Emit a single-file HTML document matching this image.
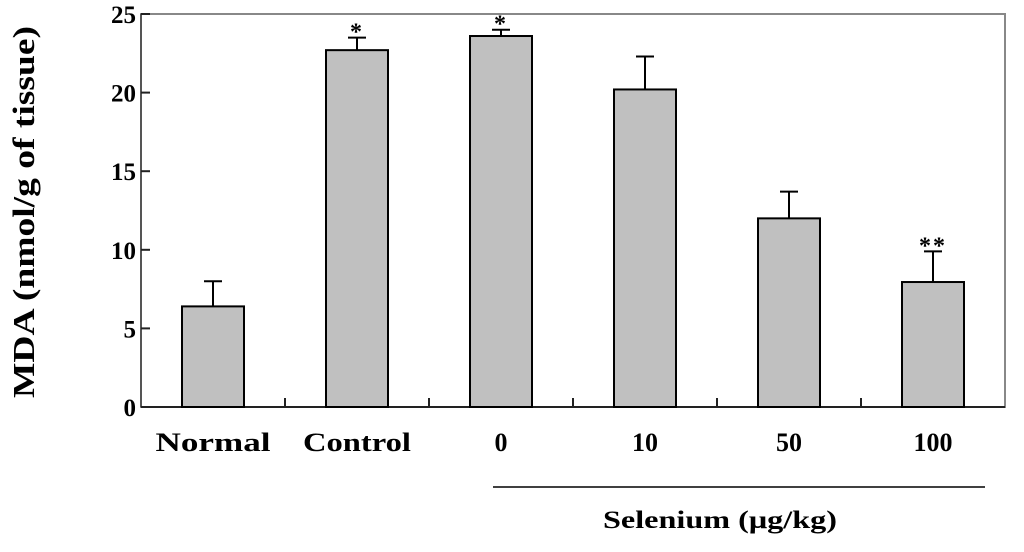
<!DOCTYPE html>
<html><head><meta charset="utf-8"><style>
body{margin:0;background:#fff;}
svg text{font-family:"Liberation Serif",serif;font-weight:bold;}
</style></head><body>
<svg id="chart" width="1024" height="547" viewBox="0 0 1024 547">
<g id="plot"></g>
</svg>
<script>
const categories=["Normal","Control","0","10","50","100"];
const means=[6.4,22.7,23.6,20.2,12.0,7.95];
const errors=[1.6,0.8,0.4,2.1,1.7,1.95];
const marks=["","*","*","","","**"];
const yTicks=[0,5,10,15,20,25];
const labelWidths=[115,108,0,0,0,0];
const NS="http://www.w3.org/2000/svg";
const L=141,R=1005,T=14,B=407,yMax=25;
const y=v=>B-(v/yMax)*(B-T);
const band=(R-L)/categories.length;
const x=i=>L+band*(i+0.5);
const g=document.getElementById('plot');
function mk(tag,attrs,parent){const e=document.createElementNS(NS,tag);for(const k in attrs)e.setAttribute(k,attrs[k]);(parent||g).appendChild(e);return e;}
let e=mk('rect',{x:L,y:T,width:R-L,height:B-T,fill:'none',stroke:'#888','stroke-width':2});


e=mk('line',{x1:L,y1:B,x2:R,y2:B,stroke:'#222','stroke-width':2});


e=mk('line',{x1:L,y1:T,x2:L,y2:B,stroke:'#555','stroke-width':2});


yTicks.forEach(t=>{
  e=mk('line',{x1:L,y1:y(t),x2:L+9,y2:y(t),stroke:'#222','stroke-width':2});
  
  
  e=mk('text',{x:L-5,y:y(t)+9,'font-size':25,'text-anchor':'end'});
  e.textContent=t;
  
  
});
for(let i=1;i<categories.length;i++){
  e=mk('line',{x1:L+band*i,y1:B,x2:L+band*i,y2:B-9,stroke:'#222','stroke-width':2});
  
  
}
const bw=62;
categories.forEach((c,i)=>{
  const cx=x(i);
  const top=y(means[i]+errors[i]);
  e=mk('line',{x1:cx,y1:y(means[i]),x2:cx,y2:top,stroke:'#000','stroke-width':2});
  
  
  e=mk('line',{x1:cx-9,y1:top,x2:cx+9,y2:top,stroke:'#000','stroke-width':2});
  
  
  e=mk('rect',{x:cx-bw/2,y:y(means[i]),width:bw,height:B-y(means[i]),fill:'#c0c0c0',stroke:'#000','stroke-width':2});
  
  
  if(marks[i]){
    e=mk('text',{x:cx,y:top+2,'font-size':24,'text-anchor':'middle','font-weight':'normal','letter-spacing':2});
    e.textContent=marks[i];
    
    
  }
  const a={x:cx,y:451,'font-size':26,'text-anchor':'middle'};
  if(labelWidths[i]){a.textLength=labelWidths[i];a.lengthAdjust='spacingAndGlyphs';}
  e=mk('text',a);
  e.textContent=c;
  
  
});
e=mk('line',{x1:493,y1:487,x2:985,y2:487,stroke:'#000','stroke-width':1.5});


e=mk('text',{x:720,y:528,'font-size':25,'text-anchor':'middle',textLength:234,lengthAdjust:'spacingAndGlyphs'});
e.textContent='Selenium (μg/kg)';


e=mk('text',{x:0,y:0,'font-size':31,'text-anchor':'middle',textLength:372,lengthAdjust:'spacingAndGlyphs',transform:'translate(34,212) rotate(-90)'});
e.textContent='MDA (nmol/g of tissue)';


</script>
</body></html>
